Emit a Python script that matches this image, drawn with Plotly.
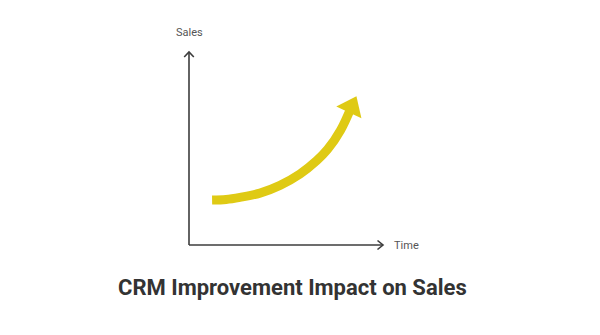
import plotly.graph_objects as go

# Data: trend of sales over time
time_vals = [1.19, 1.91, 2.63, 3.66, 4.69, 5.72, 6.58, 7.14, 7.82, 8.37]
sales_vals = [2.33, 2.36, 2.47, 2.69, 3.09, 3.68, 4.37, 4.95, 5.96, 7.15]

x_label = "Time"
y_label = "Sales"
title_text = "CRM Improvement Impact on Sales"

YELLOW = "#DFCA14"
AXIS = "#3d3d3d"

marker_sizes = [0] * (len(time_vals) - 1) + [24]

fig = go.Figure()
fig.add_trace(go.Scatter(
    x=time_vals, y=sales_vals,
    mode="lines+markers",
    line=dict(color=YELLOW, width=9, shape="spline", smoothing=1.0),
    marker=dict(symbol="triangle-up", size=marker_sizes, color=YELLOW,
                opacity=1, angleref="previous", line=dict(width=0)),
    hoverinfo="skip", showlegend=False,
))

W, H = 194.0, 193.0  # plot area in px
ax_dx = 4.8 / W
ax_dy = 5.0 / H
shapes = [
    dict(type="line", xref="paper", yref="paper", x0=0, y0=0, x1=0, y1=1,
         line=dict(color=AXIS, width=1.6)),
    dict(type="line", xref="paper", yref="paper", x0=0, y0=0, x1=1, y1=0,
         line=dict(color=AXIS, width=1.6)),
    dict(type="path", xref="paper", yref="paper",
         path=f"M {-ax_dx},{1-ax_dy} L 0,1 L {ax_dx},{1-ax_dy}",
         line=dict(color=AXIS, width=1.6)),
    dict(type="path", xref="paper", yref="paper",
         path=f"M {1-5.5/W},{4.5/H} L 1,0 L {1-5.5/W},{-4.5/H}",
         line=dict(color=AXIS, width=1.6)),
]

annotations = [
    dict(text=y_label, xref="paper", yref="paper", x=0.003, y=(245 - 32) / H,
         showarrow=False, xanchor="center", yanchor="middle",
         font=dict(family="Roboto", size=11, color="#555555")),
    dict(text=x_label, xref="paper", yref="paper", x=(406.5 - 189) / W, y=0,
         showarrow=False, xanchor="center", yanchor="middle",
         font=dict(family="Roboto", size=11, color="#555555")),
    dict(text=f"<b>{title_text}</b>", xref="paper", yref="paper",
         x=(292.5 - 189) / W, y=(245 - 287) / H,
         showarrow=False, xanchor="center", yanchor="middle",
         font=dict(family="Roboto", size=22, color="#333333")),
]

fig.update_layout(
    width=600, height=335,
    margin=dict(l=189, r=600 - 383, t=52, b=335 - 245, pad=0),
    paper_bgcolor="white", plot_bgcolor="white",
    xaxis=dict(range=[0, 10], visible=False, fixedrange=True),
    yaxis=dict(range=[0, 10], visible=False, fixedrange=True),
    shapes=shapes, annotations=annotations,
    showlegend=False,
)

fig.write_html("out.html", config={"displayModeBar": False})
